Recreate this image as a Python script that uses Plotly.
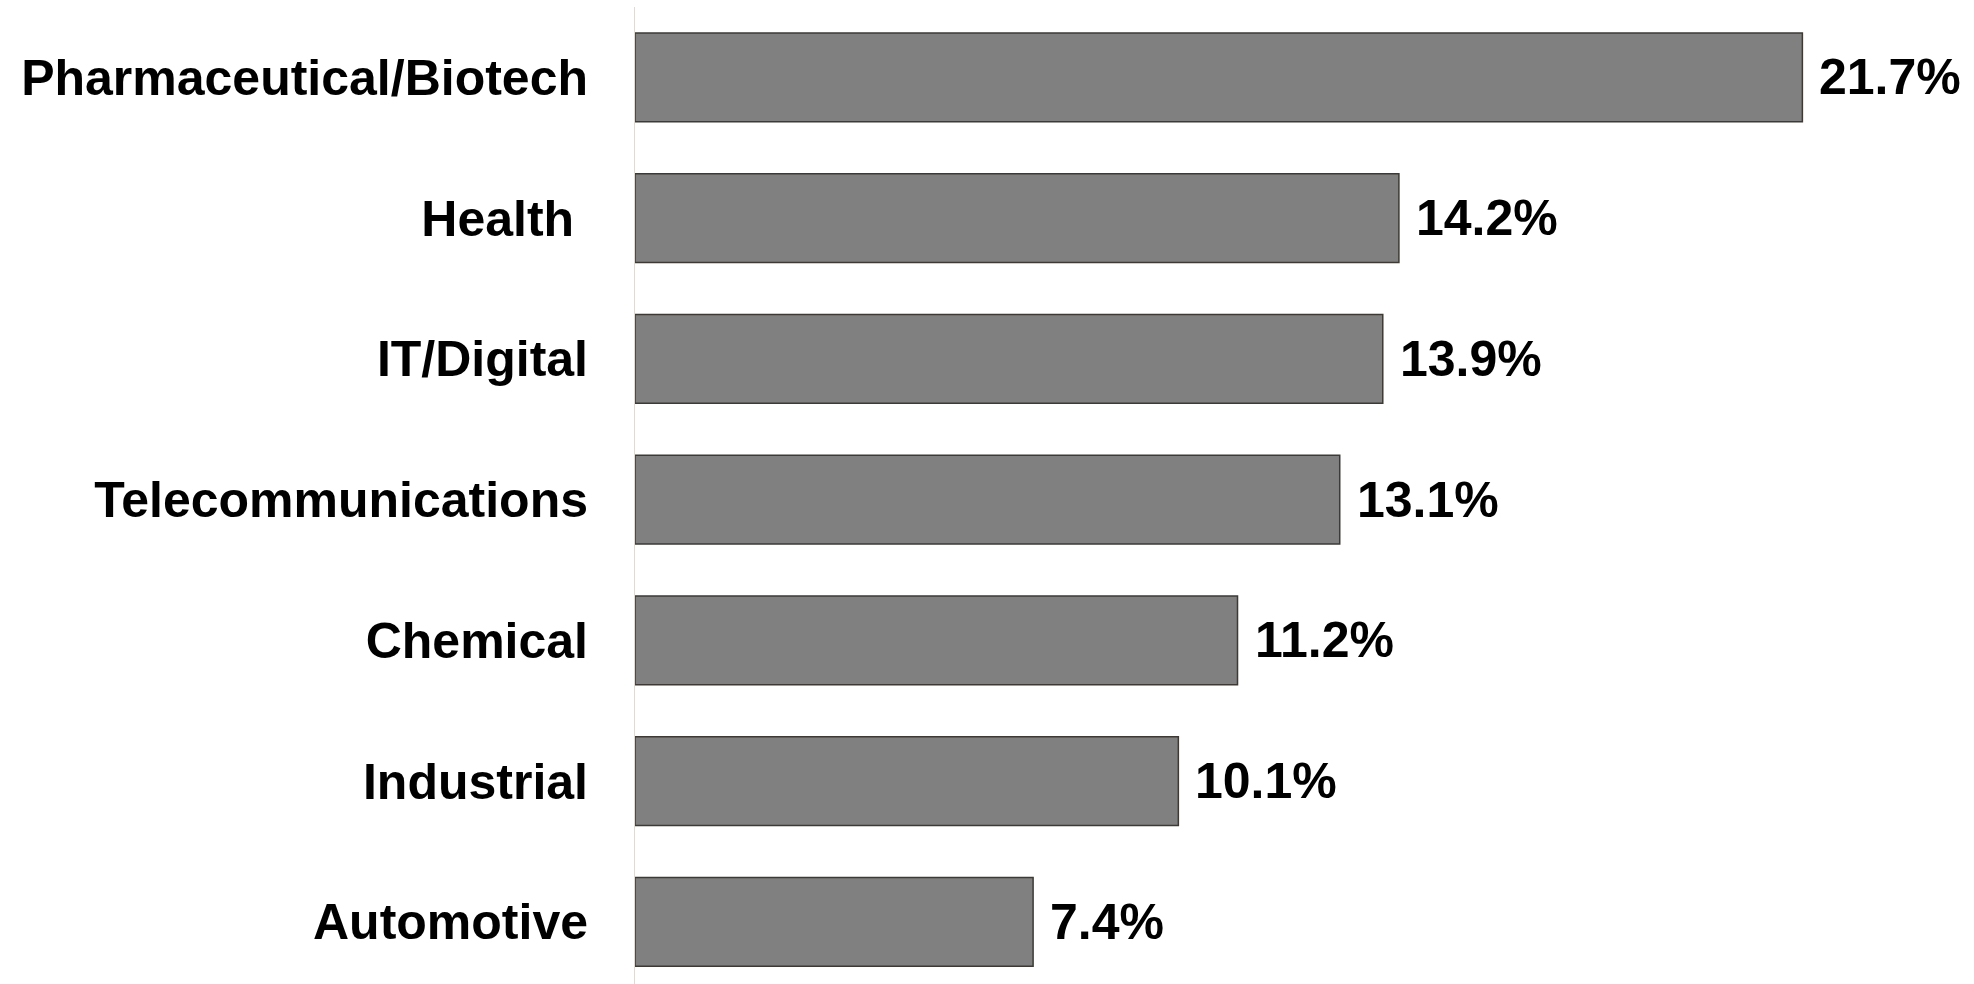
import plotly.graph_objects as go

# Share of respondents by industry sector
sectors = [
    "Pharmaceutical/Biotech",
    "Health\u00a0",
    "IT/Digital",
    "Telecommunications",
    "Chemical",
    "Industrial",
    "Automotive",
]
shares = [21.7, 14.2, 13.9, 13.1, 11.2, 10.1, 7.4]
share_labels = [f"{v:.1f}%" for v in shares]

FONT = "Liberation Sans, Arial, Helvetica, sans-serif"

fig = go.Figure(
    go.Bar(
        x=shares,
        y=sectors,
        orientation="h",
        width=0.63,
        marker=dict(color="#808080", line=dict(color="#3d3a35", width=1.5)),
        hoverinfo="skip",
    )
)

# value labels just past the end of each bar
for s, v, t in zip(sectors, shares, share_labels):
    fig.add_annotation(
        x=v, y=s, text=t, showarrow=False,
        xanchor="left", yanchor="middle", xshift=15, yshift=0,
        font=dict(family=FONT, size=50, color="black", weight="bold"),
    )

fig.update_layout(
    width=1974,
    height=984,
    margin=dict(l=635, r=0, t=7, b=0),
    paper_bgcolor="white",
    plot_bgcolor="white",
    showlegend=False,
    bargap=0.37,
    xaxis=dict(visible=False, range=[0, 24.89]),
    yaxis=dict(
        categoryorder="array",
        categoryarray=sectors,
        range=[6.441, -0.5],
        showline=True,
        linecolor="#dedad6",
        linewidth=1,
        showgrid=False,
        zeroline=False,
        ticks="",
        ticklabelstandoff=36,
        tickfont=dict(family=FONT, size=50, color="black", weight="bold"),
    ),
)

fig.write_html("out.html")
